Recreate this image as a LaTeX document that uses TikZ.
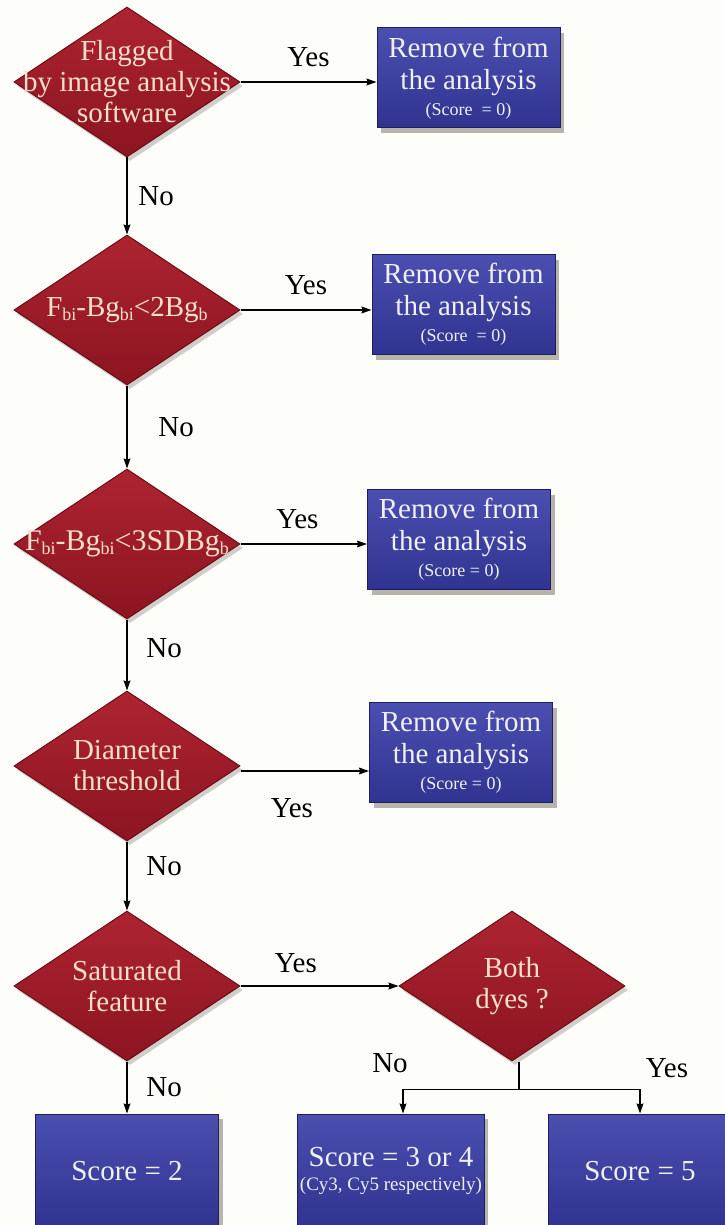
\documentclass[tikz,border=0pt]{standalone}
\usepackage{fontspec}
\setmainfont{Liberation Serif}
\usetikzlibrary{arrows.meta,shapes.geometric,shadows}
\definecolor{paper}{HTML}{FDFDFA}
\definecolor{dechi}{HTML}{AE2431}
\definecolor{declo}{HTML}{8C1421}
\definecolor{decedge}{HTML}{6E0C16}
\definecolor{dectext}{HTML}{F8E0CC}
\definecolor{boxhi}{HTML}{4B4FB0}
\definecolor{boxlo}{HTML}{30338F}
\definecolor{boxedge}{HTML}{1C1E5E}
\definecolor{boxtext}{HTML}{F0F0F6}
\definecolor{shade}{HTML}{9A968C}
\newcommand\sbs[1]{\raisebox{-0.3ex}{\fontsize{9}{9}\selectfont #1}}
\tikzset{
  >={Stealth[length=5pt,width=3.4pt,inset=0.6pt]},
  dec/.style={diamond,minimum width=113pt,minimum height=75pt,inner sep=0pt,
    draw=decedge,line width=0.5pt,top color=dechi,bottom color=declo,
    drop shadow={shadow xshift=1.5pt,shadow yshift=-2pt,fill=shade,opacity=0.45}},
  dtxt/.style={align=center,text=dectext,font=\fontsize{14.5}{15.5}\selectfont},
  box/.style={rectangle,minimum width=91.5pt,minimum height=50pt,inner sep=1pt,
    draw=boxedge,line width=0.5pt,top color=boxhi,bottom color=boxlo,
    align=center,text=boxtext,font=\fontsize{14.5}{16}\selectfont,
    drop shadow={shadow xshift=2pt,shadow yshift=-2.5pt,fill=shade,opacity=0.7}},
  small/.style={font=\fontsize{10.5}{11}\selectfont},
  lab/.style={font=\fontsize{14.5}{15}\selectfont,text=black},
  arr/.style={->,draw=black,line width=0.7pt},
}
\begin{document}
\begin{tikzpicture}[x=0.5pt,y=-0.5pt]
\useasboundingbox[fill=paper] (0,0) rectangle (724,1225);
% decisions
\node[dec] (d1) at (127,82) {};
\node[dtxt] (t1) at (d1) {Flagged\\by image analysis\\software};
\node[dec] (d2) at (127,310) {};
\node[dtxt] (t2) at (d2) {F\sbs{bi}-Bg\sbs{bi}<2Bg\sbs{b}};
\node[dec] (d3) at (127,544) {};
\node[dtxt,font=\fontsize{15}{16}\selectfont] (t3) at (d3) {F\sbs{bi}-Bg\sbs{bi}<3SDBg\sbs{b}};
\node[dec] (d4) at (127,766) {};
\node[dtxt] (t4) at (d4) {Diameter\\threshold};
\node[dec] (d5) at (127,986) {};
\node[dtxt] (t5) at (d5) {Saturated\\feature};
\node[dec] (d6) at (512,986) {};
\node[dtxt] (t6) at (d6) {Both\\dyes ?};
% outcomes
\node[box] (b1) at (468.5,78) {Remove from\\the analysis\\[-3pt]{\small (Score \ = 0)}};
\node[box] (b2) at (463.5,304.5) {Remove from\\the analysis\\[-3pt]{\small (Score \ = 0)}};
\node[box] (b3) at (459,539.5) {Remove from\\the analysis\\[-3pt]{\small (Score = 0)}};
\node[box] (b4) at (461,752.5) {Remove from\\the analysis\\[-3pt]{\small (Score = 0)}};
\node[box,minimum height=57pt] (b5) at (127,1171) {Score = 2};
\node[box,minimum height=57pt] (b6) at (391,1171) {Score = 3 or 4\\[-4pt]{\fontsize{9.5}{10}\selectfont (Cy3, Cy5 respectively)}};
\node[box,minimum height=57pt] (b7) at (640,1171) {Score = 5};
% yes branches
\draw[arr] (d1.east) -- (d1.east -| b1.west) node[lab,midway,above=4pt] (y1) {Yes};
\draw[arr] (d2.east) -- (d2.east -| b2.west) node[lab,midway,above=4pt] (y2) {Yes};
\draw[arr] (d3.east) -- (d3.east -| b3.west) node[lab,pos=0.45,above=4pt] (y3) {Yes};
\draw[arr] ([yshift=-2.5pt]d4.east) -- ([yshift=-2.5pt]d4.east -| b4.west) node[lab,pos=0.4,below=10pt] (y4) {Yes};
\draw[arr] (d5.east) -- (d6.west) node[lab,pos=0.35,above=3pt] (y5) {Yes};
% no branches
\draw[arr] (d1.south) -- (d2.north) node[lab,midway,right=2pt] (n1) {No};
\draw[arr] (d2.south) -- (d3.north) node[lab,midway,right=12pt] (n2) {No};
\draw[arr] (d3.south) -- (d4.north) node[lab,pos=0.4,right=6pt] (n3) {No};
\draw[arr] (d4.south) -- (d5.north) node[lab,pos=0.35,right=6pt] (n4) {No};
\draw[arr] (d5.south) -- (b5.north) node[lab,pos=0.5,right=6pt] (n5) {No};
% dye split
\draw[line width=0.7pt] ([xshift=3.5pt]d6.south) -- ++(0,28) coordinate (sp);
\draw[arr] (sp) -| ([xshift=6pt]b6.north);
\draw[arr] (sp) -| (b7.north);
\node[lab] (n6) at (390,1063) {No};
\node[lab] (y6) at (667,1068) {Yes};
\end{tikzpicture}
\end{document}
